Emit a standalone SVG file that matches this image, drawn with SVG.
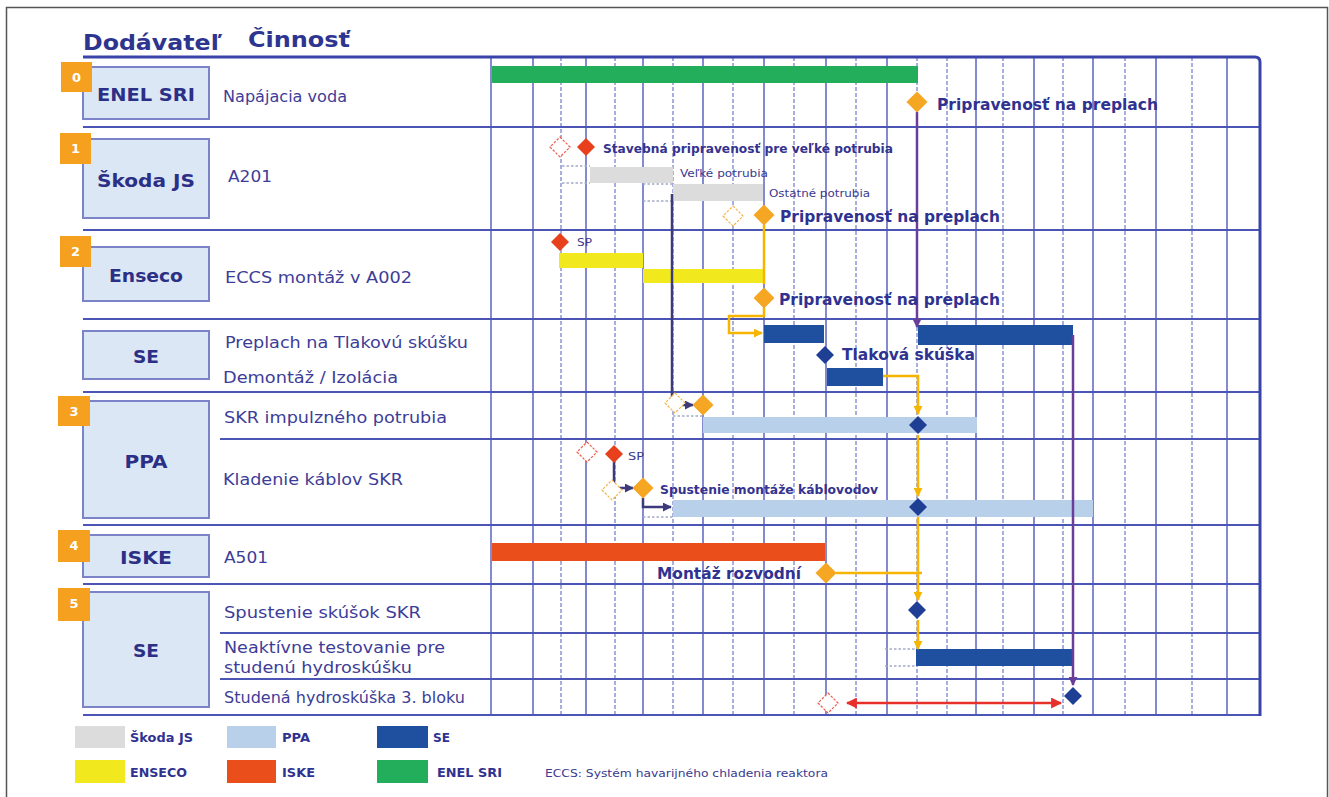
<svg xmlns="http://www.w3.org/2000/svg" xmlns:xlink="http://www.w3.org/1999/xlink" width="1329" height="797" viewBox="0 0 1329 797">
<style>
text{font-family:"DejaVu Sans","Verdana",sans-serif;}
.hdr{font-size:21px;font-weight:bold;fill:#2d3590;}
.sup{font-size:18px;font-weight:bold;fill:#2b2f85;text-anchor:middle;}
.act{font-size:16px;fill:#3d3d98;}
.num{font-size:13px;font-weight:bold;fill:#ffffff;text-anchor:middle;}
.ms{font-size:15px;font-weight:bold;fill:#2f3290;}
.sm{font-size:12.5px;font-weight:bold;fill:#34338e;}
.tiny{font-size:11px;fill:#3a3a90;}
.leg{font-size:12px;font-weight:bold;fill:#2f3290;}
.box{fill:#dce7f5;stroke:#7d83c8;stroke-width:2;}
.badge{fill:#f5a01e;}
.hl{stroke:#4b55b5;stroke-width:2;fill:none;}
.vs{stroke:#5a63c0;stroke-width:1.5;}
.vd{stroke:#8d94d6;stroke-width:1.5;stroke-dasharray:4 2;}
.dot{stroke:#a3aac8;stroke-width:1.5;stroke-dasharray:2.5 2;fill:none;}
.cy{stroke:#f7b500;stroke-width:2.5;fill:none;}
.cn{stroke:#3b3a7c;stroke-width:2.5;fill:none;}
.cp{stroke:#6a3d9a;stroke-width:2.5;fill:none;}
.cr{stroke:#e8302a;stroke-width:2.5;fill:none;}
</style>
<defs>
<path id="dOr" d="M0,-10.5 L10.5,0 L0,10.5 L-10.5,0Z" fill="#f5a623"/>
<path id="dRd" d="M0,-9 L9,0 L0,9 L-9,0Z" fill="#e8401c"/>
<path id="dBl" d="M0,-9 L9,0 L0,9 L-9,0Z" fill="#1f3f95"/>
<path id="hRd" d="M0,-10 L10,0 L0,10 L-10,0Z" fill="#fff" stroke="#ec5a48" stroke-width="1.2" stroke-dasharray="2.5 1.5"/>
<path id="hOr" d="M0,-10 L10,0 L0,10 L-10,0Z" fill="#fff" stroke="#f5b34a" stroke-width="1.2" stroke-dasharray="2.5 1.5"/>
<marker id="aY" viewBox="0 0 10 10" refX="9" refY="5" markerWidth="9" markerHeight="9" markerUnits="userSpaceOnUse" orient="auto"><path d="M0,0 L10,5 L0,10z" fill="#f7b500"/></marker>
<marker id="aN" viewBox="0 0 10 10" refX="9" refY="5" markerWidth="9" markerHeight="9" markerUnits="userSpaceOnUse" orient="auto"><path d="M0,0 L10,5 L0,10z" fill="#3b3a7c"/></marker>
<marker id="aP" viewBox="0 0 10 10" refX="9" refY="5" markerWidth="9" markerHeight="9" markerUnits="userSpaceOnUse" orient="auto"><path d="M0,0 L10,5 L0,10z" fill="#6a3d9a"/></marker>
<marker id="aR" viewBox="0 0 10 10" refX="9" refY="5" markerWidth="11" markerHeight="11" markerUnits="userSpaceOnUse" orient="auto-start-reverse"><path d="M0,0 L10,5 L0,10z" fill="#e8302a"/></marker>
</defs>

<rect x="6.5" y="7.5" width="1321" height="800" fill="#ffffff" stroke="#555555" stroke-width="1.5"/>

<g id="header">
<text class="hdr" x="83" y="50" textLength="139" lengthAdjust="spacingAndGlyphs">Dodávateľ</text>
<text class="hdr" x="248" y="47" textLength="102" lengthAdjust="spacingAndGlyphs">Činnosť</text>
</g>

<g id="grid">
<line class="vd" x1="561" y1="57" x2="561" y2="715"/>
<line class="vd" x1="615" y1="57" x2="615" y2="715"/>
<line class="vd" x1="673" y1="57" x2="673" y2="715"/>
<line class="vd" x1="733" y1="57" x2="733" y2="715"/>
<line class="vd" x1="794" y1="57" x2="794" y2="715"/>
<line class="vd" x1="856" y1="57" x2="856" y2="715"/>
<line class="vd" x1="917" y1="57" x2="917" y2="715"/>
<line class="vd" x1="947" y1="57" x2="947" y2="715"/>
<line class="vd" x1="1003" y1="57" x2="1003" y2="715"/>
<line class="vd" x1="1063" y1="57" x2="1063" y2="715"/>
<line class="vd" x1="1125" y1="57" x2="1125" y2="715"/>
<line class="vd" x1="1192" y1="57" x2="1192" y2="715"/>
<line class="vs" x1="491" y1="57" x2="491" y2="715"/>
<line class="vs" x1="533" y1="57" x2="533" y2="715"/>
<line class="vs" x1="586" y1="57" x2="586" y2="715"/>
<line class="vs" x1="643" y1="57" x2="643" y2="715"/>
<line class="vs" x1="703" y1="57" x2="703" y2="715"/>
<line class="vs" x1="764" y1="57" x2="764" y2="715"/>
<line class="vs" x1="826" y1="57" x2="826" y2="715"/>
<line class="vs" x1="887" y1="57" x2="887" y2="715"/>
<line class="vs" x1="976" y1="57" x2="976" y2="715"/>
<line class="vs" x1="1034" y1="57" x2="1034" y2="715"/>
<line class="vs" x1="1093" y1="57" x2="1093" y2="715"/>
<line class="vs" x1="1156" y1="57" x2="1156" y2="715"/>
<line class="vs" x1="1227" y1="57" x2="1227" y2="715"/>
<path class="hl" d="M83,127 H1260 M83,230 H1260 M83,319 H1260 M83,392 H1260 M220,439 H1260 M83,525 H1260 M83,584 H1260 M220,633 H1260 M220,679 H1260 M83,715 H1260"/>
<path d="M83,57 H1255 Q1260,57 1260,62 V716" fill="none" stroke="#3a44a8" stroke-width="3"/>
</g>

<g id="row0">
<rect class="box" x="83" y="67" width="126" height="52"/>
<rect class="badge" x="61" y="62" width="31" height="30"/>
<text class="num" x="76.5" y="82">0</text>
<text class="sup" x="146" y="101" textLength="98" lengthAdjust="spacingAndGlyphs">ENEL SRI</text>
<text class="act" x="223" y="102" textLength="124" lengthAdjust="spacingAndGlyphs">Napájacia voda</text>
</g>

<g id="row1">
<rect class="box" x="83" y="139" width="126" height="79"/>
<rect class="badge" x="60" y="133" width="31" height="31"/>
<text class="num" x="75.5" y="153">1</text>
<text class="sup" x="146" y="187" textLength="98" lengthAdjust="spacingAndGlyphs">Škoda JS</text>
<text class="act" x="228" y="182" textLength="44" lengthAdjust="spacingAndGlyphs">A201</text>
</g>

<g id="row2">
<rect class="box" x="83" y="247" width="126" height="54"/>
<rect class="badge" x="60" y="236" width="31" height="31"/>
<text class="num" x="75.5" y="256">2</text>
<text class="sup" x="146" y="282" textLength="74" lengthAdjust="spacingAndGlyphs">Enseco</text>
<text class="act" x="225" y="283" textLength="187" lengthAdjust="spacingAndGlyphs">ECCS montáž v A002</text>
</g>

<g id="rowSE">
<rect class="box" x="83" y="331" width="126" height="48"/>
<text class="sup" x="146" y="363" textLength="26" lengthAdjust="spacingAndGlyphs">SE</text>
<text class="act" x="225" y="348" textLength="243" lengthAdjust="spacingAndGlyphs">Preplach na Tlakovú skúšku</text>
<text class="act" x="223" y="383" textLength="175" lengthAdjust="spacingAndGlyphs">Demontáž / Izolácia</text>
</g>

<g id="row3">
<rect class="box" x="83" y="401" width="126" height="117"/>
<rect class="badge" x="58" y="396" width="32" height="30"/>
<text class="num" x="74" y="416">3</text>
<text class="sup" x="146" y="468" textLength="43" lengthAdjust="spacingAndGlyphs">PPA</text>
<text class="act" x="224" y="423" textLength="223" lengthAdjust="spacingAndGlyphs">SKR impulzného potrubia</text>
<text class="act" x="223" y="485" textLength="180" lengthAdjust="spacingAndGlyphs">Kladenie káblov SKR</text>
</g>

<g id="row4">
<rect class="box" x="83" y="535" width="126" height="42"/>
<rect class="badge" x="58" y="530" width="32" height="32"/>
<text class="num" x="74" y="550">4</text>
<text class="sup" x="146" y="564" textLength="52" lengthAdjust="spacingAndGlyphs">ISKE</text>
<text class="act" x="224" y="563" textLength="44" lengthAdjust="spacingAndGlyphs">A501</text>
</g>

<g id="row5">
<rect class="box" x="83" y="592" width="126" height="115"/>
<rect class="badge" x="58" y="588" width="32" height="33"/>
<text class="num" x="74" y="608">5</text>
<text class="sup" x="146" y="657" textLength="26" lengthAdjust="spacingAndGlyphs">SE</text>
<text class="act" x="224" y="618" textLength="197" lengthAdjust="spacingAndGlyphs">Spustenie skúšok SKR</text>
<text class="act" x="224" y="653" textLength="221" lengthAdjust="spacingAndGlyphs">Neaktívne testovanie pre</text>
<text class="act" x="224" y="673" textLength="188" lengthAdjust="spacingAndGlyphs">studenú hydroskúšku</text>
<text class="act" x="224" y="703" style="font-size:15px" textLength="241" lengthAdjust="spacingAndGlyphs">Studená hydroskúška 3. bloku</text>
</g>

<g id="baselines">
<path class="dot" d="M562,166 H590 M562,183 H590 M643,184 H673 M643,201 H673 M673,416 H703 M643,517 H673 M885,649 H916 M885,666 H916"/>
</g>

<g id="bars">
<rect id="bar-enel" x="492" y="66" width="426" height="17" fill="#22ae5a"/>
<rect id="bar-skoda1" x="590" y="167" width="83" height="16" fill="#dcdcdc"/>
<rect id="bar-skoda2" x="673" y="184" width="90" height="17" fill="#dcdcdc"/>
<rect id="bar-enseco1" x="559" y="253" width="84" height="15" fill="#f2e81e"/>
<rect id="bar-enseco2" x="643" y="269" width="120" height="14" fill="#f2e81e"/>
<rect id="bar-se1" x="764" y="325" width="60" height="18" fill="#1f4f9f"/>
<rect id="bar-se2" x="918" y="325" width="155" height="20" fill="#1f4f9f"/>
<rect id="bar-se3" x="827" y="368" width="56" height="18" fill="#1f4f9f"/>
<rect id="bar-ppa1" x="703" y="417" width="274" height="16" fill="#b9d0ea"/>
<rect id="bar-ppa2" x="673" y="500" width="420" height="17" fill="#b9d0ea"/>
<rect id="bar-iske" x="492" y="543" width="333" height="18" fill="#e94e1b"/>
<rect id="bar-se5" x="916" y="649" width="157" height="17" fill="#1f4f9f"/>
</g>

<g id="connectors">
<path class="cp" d="M917,112 V327" marker-end="url(#aP)"/>
<path class="cp" d="M1073,335 V685" marker-end="url(#aP)"/>
<path class="cn" d="M672,194 V405 H693" marker-end="url(#aN)"/>
<path class="cn" d="M614,462 V488 H633" marker-end="url(#aN)"/>
<path class="cn" d="M643,498 V507 H671" marker-end="url(#aN)"/>
<path class="cy" d="M764,225 V284"/>
<path class="cy" d="M764,308 V316 H729 V333 H762" marker-end="url(#aY)"/>
<path class="cy" d="M883,376 H918 V414" marker-end="url(#aY)"/>
<path class="cy" d="M918,435 V496" marker-end="url(#aY)"/>
<path class="cy" d="M918,517 V600" marker-end="url(#aY)"/>
<path class="cy" d="M836,573 H922"/>
<path class="cy" d="M918,620 V649" marker-end="url(#aY)"/>
<path class="cr" d="M847,703 H1061" marker-start="url(#aR)" marker-end="url(#aR)"/>
</g>

<g id="milestones">
<use xlink:href="#dOr" x="917" y="102"/>
<text class="ms" x="937" y="110" textLength="221" lengthAdjust="spacingAndGlyphs">Pripravenosť na preplach</text>

<use xlink:href="#hRd" x="560" y="147"/>
<use xlink:href="#dRd" x="586" y="147"/>
<text class="sm" x="603" y="153" textLength="290" lengthAdjust="spacingAndGlyphs">Stavebná pripravenosť pre veľké potrubia</text>
<text class="tiny" x="680" y="177" textLength="88" lengthAdjust="spacingAndGlyphs">Veľké potrubia</text>
<text class="tiny" x="769" y="197" textLength="101" lengthAdjust="spacingAndGlyphs">Ostatné potrubia</text>
<use xlink:href="#hOr" x="733" y="216"/>
<use xlink:href="#dOr" x="764" y="215"/>
<text class="ms" x="780" y="222" textLength="220" lengthAdjust="spacingAndGlyphs">Pripravenosť na preplach</text>

<use xlink:href="#dRd" x="560" y="242"/>
<text class="tiny" x="577" y="246" textLength="15" lengthAdjust="spacingAndGlyphs">SP</text>
<use xlink:href="#dOr" x="764" y="298"/>
<text class="ms" x="779" y="305" textLength="221" lengthAdjust="spacingAndGlyphs">Pripravenosť na preplach</text>

<use xlink:href="#dBl" x="825" y="355"/>
<text class="ms" x="842" y="360" textLength="133" lengthAdjust="spacingAndGlyphs">Tlaková skúška</text>

<use xlink:href="#hOr" x="675" y="403"/>
<use xlink:href="#dOr" x="703" y="405"/>
<use xlink:href="#dBl" x="918" y="425"/>

<use xlink:href="#hRd" x="587" y="452"/>
<use xlink:href="#dRd" x="614" y="454"/>
<text class="tiny" x="628" y="460" textLength="16" lengthAdjust="spacingAndGlyphs">SP</text>
<use xlink:href="#hOr" x="612" y="490"/>
<use xlink:href="#dOr" x="643" y="488"/>
<text class="sm" x="660" y="494" textLength="218" lengthAdjust="spacingAndGlyphs">Spustenie montáže káblovodov</text>
<use xlink:href="#dBl" x="918" y="507"/>

<use xlink:href="#dOr" x="826" y="573"/>
<text class="ms" x="657" y="579" textLength="144" lengthAdjust="spacingAndGlyphs">Montáž rozvodní</text>

<use xlink:href="#dBl" x="917" y="610"/>
<use xlink:href="#hRd" x="828" y="703"/>
<use xlink:href="#dBl" x="1073" y="696"/>
</g>

<g id="legend">
<rect x="75" y="726" width="50" height="22" fill="#dcdcdc"/>
<text class="leg" x="130" y="742" textLength="63" lengthAdjust="spacingAndGlyphs">Škoda JS</text>
<rect x="227" y="726" width="49" height="22" fill="#b9d0ea"/>
<text class="leg" x="282" y="742" textLength="28" lengthAdjust="spacingAndGlyphs">PPA</text>
<rect x="377" y="726" width="51" height="22" fill="#1f4f9f"/>
<text class="leg" x="433" y="742" textLength="17" lengthAdjust="spacingAndGlyphs">SE</text>
<rect x="75" y="760" width="50" height="23" fill="#f2e81e"/>
<text class="leg" x="130" y="777" textLength="57" lengthAdjust="spacingAndGlyphs">ENSECO</text>
<rect x="227" y="760" width="49" height="23" fill="#e94e1b"/>
<text class="leg" x="282" y="777" textLength="33" lengthAdjust="spacingAndGlyphs">ISKE</text>
<rect x="377" y="760" width="51" height="23" fill="#22ae5a"/>
<text class="leg" x="437" y="777" textLength="65" lengthAdjust="spacingAndGlyphs">ENEL SRI</text>
<text class="tiny" x="545" y="777" textLength="283" lengthAdjust="spacingAndGlyphs">ECCS: Systém havarijného chladenia reaktora</text>
</g>
</svg>
